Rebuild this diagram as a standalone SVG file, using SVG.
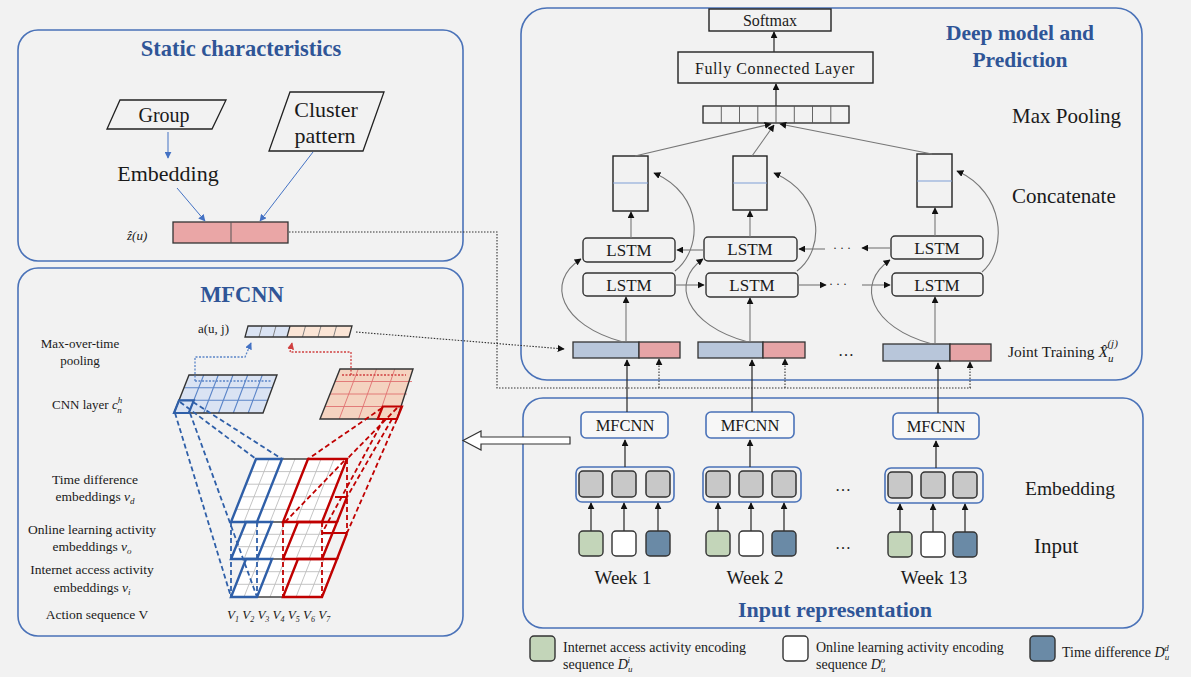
<svg xmlns="http://www.w3.org/2000/svg" width="1191" height="677" viewBox="0 0 1191 677">
<defs>
<style>
.panel{fill:#f2f2f2;stroke:#4a72b8;stroke-width:1.6}
.title{font-family:"Liberation Serif",serif;font-weight:bold;fill:#2f5597;text-anchor:middle}
.t{font-family:"Liberation Serif",serif;fill:#1a1a1a}
.c{text-anchor:middle}
.box{fill:#f2f2f2;stroke:#222;stroke-width:1.4}
.lstm{fill:#f2f2f2;stroke:#333;stroke-width:1.4}
.mf{fill:#f7f7f7;stroke:#4a72b8;stroke-width:1.6}
.emb{fill:none;stroke:#4a72b8;stroke-width:1.6}
.gsq{fill:#c8c8c8;stroke:#333;stroke-width:1.5}
.a{stroke:#333;stroke-width:1.3;fill:none}
.ag{stroke:#777;stroke-width:1.1;fill:none}
.dot{stroke:#333;stroke-width:1.1;fill:none;stroke-dasharray:1.5 1.5}
.ab{stroke:#4472c4;stroke-width:1;fill:none}
.grid{stroke:#bdbdbd;stroke-width:0.9;fill:none}
.bl{stroke:#2f5fa8;stroke-width:2.4;fill:none}
.rd{stroke:#c00000;stroke-width:2.4;fill:none}
.bld{stroke:#2f5fa8;stroke-width:1.8;fill:none;stroke-dasharray:5 3}
.rdd{stroke:#c00000;stroke-width:1.8;fill:none;stroke-dasharray:5 3}
.i{font-style:italic}
</style>
<marker id="ah" viewBox="0 0 10 10" refX="9" refY="5" markerWidth="7" markerHeight="7" markerUnits="userSpaceOnUse" orient="auto"><path d="M0,0 L10,5 L0,10 z" fill="#111"/></marker>
<marker id="ahb" viewBox="0 0 10 10" refX="9" refY="5" markerWidth="7" markerHeight="7" markerUnits="userSpaceOnUse" orient="auto"><path d="M0,0 L10,5 L0,10 z" fill="#4472c4"/></marker>
<marker id="ahr" viewBox="0 0 10 10" refX="9" refY="5" markerWidth="7" markerHeight="7" markerUnits="userSpaceOnUse" orient="auto"><path d="M0,0 L10,5 L0,10 z" fill="#d04040"/></marker>
</defs>
<rect x="0" y="0" width="1191" height="677" fill="#f2f2f2"/>

<!-- Static characteristics -->
<g id="static-panel">
<rect class="panel" x="18" y="30" width="445" height="231" rx="20"/>
<text class="title" x="241" y="56" font-size="22.5">Static characteristics</text>
</g>
<g id="group-node">
<polygon points="120,100 226,100 212,129 107,129" fill="#f2f2f2" stroke="#222" stroke-width="1.3"/>
<text class="t c" x="164" y="122" font-size="20">Group</text>
</g>
<g id="embedding-static">
<text class="t c" x="168" y="181" font-size="22">Embedding</text>
</g>
<g id="cluster-node">
<polygon points="290,92 384,92 363,151 269,151" fill="#f2f2f2" stroke="#222" stroke-width="1.3"/>
<text class="t c" x="326" y="117" font-size="22">Cluster</text>
<text class="t c" x="325" y="143" font-size="22">pattern</text>
</g>
<g id="zu-node">
<text class="t i" x="127" y="240" font-size="13">ẑ(u)</text>
<rect x="173" y="222" width="115" height="21" fill="#eaa6a6" stroke="#333" stroke-width="1.3"/>
<line x1="231" y1="222" x2="231" y2="243" stroke="#555" stroke-width="1"/>
</g>

<!-- MFCNN panel -->
<g id="mfcnn-panel">
<rect class="panel" x="18" y="268" width="445" height="368" rx="20"/>
<text class="title" x="242" y="302" font-size="22.5">MFCNN</text>
<text class="t" x="198" y="333" font-size="13">a(u, j)</text>
<text class="t c" x="80" y="348" font-size="13">Max-over-time</text>
<text class="t c" x="80" y="365" font-size="13">pooling</text>
<text class="t" x="52" y="409" font-size="13">CNN layer <tspan class="i">c</tspan><tspan class="i" font-size="9" dy="-6">h</tspan><tspan class="i" font-size="9" dx="-5" dy="10">n</tspan></text>
<text class="t c" x="95" y="484" font-size="13.5">Time difference</text>
<text class="t c" x="95" y="501" font-size="13.5">embeddings <tspan class="i">v</tspan><tspan class="i" font-size="9" dy="3">d</tspan></text>
<text class="t c" x="92" y="534" font-size="13.5">Online learning activity</text>
<text class="t c" x="92" y="551" font-size="13.5">embeddings <tspan class="i">v</tspan><tspan class="i" font-size="9" dy="3">o</tspan></text>
<text class="t c" x="92" y="574" font-size="13.5">Internet access activity</text>
<text class="t c" x="92" y="592" font-size="13.5">embeddings <tspan class="i">v</tspan><tspan class="i" font-size="9" dy="3">i</tspan></text>
<text class="t c" x="97" y="619" font-size="13.5">Action sequence V</text>
<text class="t i" x="227" y="619" font-size="13"><tspan>V</tspan><tspan font-size="8" dy="3">1</tspan><tspan dy="-3"> V</tspan><tspan font-size="8" dy="3">2</tspan><tspan dy="-3"> V</tspan><tspan font-size="8" dy="3">3</tspan><tspan dy="-3"> V</tspan><tspan font-size="8" dy="3">4</tspan><tspan dy="-3"> V</tspan><tspan font-size="8" dy="3">5</tspan><tspan dy="-3"> V</tspan><tspan font-size="8" dy="3">6</tspan><tspan dy="-3"> V</tspan><tspan font-size="8" dy="3">7</tspan></text>
</g>

<g id="pooling-bar">
<polygon points="248,326 290,326 287,337 245,337" fill="#dae3f3"/>
<polygon points="290,326 352,326 349,337 287,337" fill="#fbe5d6"/>
<path d="M262,326 L259,337 M276,326 L273,337 M305.5,326 L302.5,337 M321,326 L318,337 M336.5,326 L333.5,337" stroke="#777" stroke-width="0.9"/>
<line x1="290" y1="326" x2="287" y2="337" stroke="#333" stroke-width="1.2"/>
<polygon points="248,326 352,326 349,337 245,337" fill="none" stroke="#333" stroke-width="1.3"/>
</g>

<g id="cnn-blue">
<polygon points="189,375 277,375 263,413 174,413" fill="#dae3f3"/>
<path d="M188.8,413 L203.7,375 M203.7,413 L218.3,375 M218.5,413 L233,375 M233.3,413 L247.7,375 M248.2,413 L262.3,375 M179,400.3 L268,400.3 M184,387.7 L272.5,387.7" stroke="#5b85c8" stroke-width="1.1" fill="none"/>
<polygon points="189,375 277,375 263,413 174,413" fill="none" stroke="#333" stroke-width="1.4"/>
<polygon points="174,413 188.8,413 193.8,400.3 179,400.3" fill="none" stroke="#2f5fa8" stroke-width="2.2"/>
</g>
<g id="cnn-red">
<polygon points="340,369 413,369 397,419 320,419" fill="#f4d3c0"/>
<path d="M339.25,419 L358.25,369 M358.5,419 L376.5,369 M377.75,419 L394.75,369 M325,406.5 L402,406.5 M330,394 L407,394 M335,381.5 L412,381.5" stroke="#e07070" stroke-width="0.9" fill="none"/>
<polygon points="340,369 413,369 397,419 320,419" fill="none" stroke="#333" stroke-width="1.4"/>
<polygon points="377.75,419 397,419 402,406.5 382.75,406.5" fill="none" stroke="#c00000" stroke-width="2.2"/>
</g>

<g id="embedding-block">
<polygon points="231,522 322,522 347,459 256,459" fill="#fff"/>
<path class="grid" d="M244,522 L269,459 M257,522 L282,459 M270,522 L295,459 M283,522 L308,459 M296,522 L321,459 M309,522 L334,459 M236,509.4 L327,509.4 M241,496.8 L332,496.8 M246,484.2 L337,484.2 M251,471.6 L342,471.6"/>
<polygon points="231,559 322,559 337,522 246,522" fill="#fff"/>
<path class="grid" d="M244,559 L259,522 M257,559 L272,522 M270,559 L285,522 M283,559 L298,522 M296,559 L311,522 M309,559 L324,522 M236,546.7 L327,546.7 M241,534.3 L332,534.3"/>
<polygon points="231,597 322,597 337,559 246,559" fill="#fff"/>
<path class="grid" d="M244,597 L259,559 M257,597 L272,559 M270,597 L285,559 M283,597 L298,559 M296,597 L311,559 M309,597 L324,559 M236,584.3 L327,584.3 M241,571.7 L332,571.7"/>
<path d="M282,459 L308,459 M257,522 L283,522 M257,559 L283,559 M257,597 L283,597" stroke="#444" stroke-width="1.6"/>
<polygon class="bl" points="231,522 257,522 282,459 256,459"/>
<polygon class="bl" points="231,559 257,559 272,522 246,522"/>
<polygon class="bl" points="231,597 257,597 272,559 246,559"/>
<polygon class="rd" points="283,522 322,522 347,459 308,459"/>
<polygon class="rd" points="283,559 322,559 337,522 298,522"/>
<polygon class="rd" points="283,597 322,597 337,559 298,559"/>
<path class="rd" d="M337,522 L347,497 M347,533 L337,559" stroke-width="2"/>
<path d="M335,497 L347,497 M322,533 L347,533" stroke="#c00000" stroke-width="2"/>
<path class="bld" d="M231,522 L231,597 M257,522 L257,597"/>
<path class="rdd" d="M283,522 L283,597 M322,522 L322,597 M347,459 L347,533 M285,522 L345,460"/>
</g>

<!-- Deep model panel -->
<g id="deep-panel">
<rect class="panel" x="521" y="8" width="621" height="372" rx="26"/>
<text class="title" x="1020" y="40" font-size="21.5">Deep model and</text>
<text class="title" x="1020" y="67" font-size="21.5">Prediction</text>
<text class="t" x="1012" y="123" font-size="21">Max Pooling</text>
<text class="t" x="1012" y="203" font-size="21">Concatenate</text>
<text class="t" x="1008" y="357" font-size="15.5">Joint Training <tspan class="i">X̂</tspan><tspan class="i" font-size="11" dy="5">u</tspan><tspan class="i" font-size="11" dx="-6" dy="-15">(j)</tspan></text>
</g>
<g id="softmax"><rect class="box" x="709" y="9" width="122" height="22"/><text class="t c" x="770" y="26" font-size="16">Softmax</text></g>
<g id="fc"><rect class="box" x="678" y="52" width="195" height="31"/><text class="t c" x="775" y="74" font-size="16" letter-spacing="0.6">Fully Connected Layer</text></g>
<g id="maxpool">
<rect x="703" y="106" width="146" height="17" fill="#f2f2f2" stroke="#222" stroke-width="1.3"/>
<path d="M721.3,106 V123 M739.5,106 V123 M757.8,106 V123 M776,106 V123 M794.3,106 V123 M812.5,106 V123 M830.8,106 V123" stroke="#555" stroke-width="0.9"/>
</g>
<g id="concat1"><rect class="box" x="613" y="156" width="35" height="55"/><line x1="613" y1="183" x2="648" y2="183" stroke="#7f9fd6" stroke-width="1"/></g>
<g id="concat2"><rect class="box" x="733" y="156" width="34" height="54"/><line x1="733" y1="183" x2="767" y2="183" stroke="#7f9fd6" stroke-width="1"/></g>
<g id="concat3"><rect class="box" x="917" y="154" width="35" height="53"/><line x1="917" y1="181" x2="952" y2="181" stroke="#7f9fd6" stroke-width="1"/></g>
<g id="lstm-t1"><rect class="lstm" x="583" y="238" width="92" height="24" rx="4"/><text class="t c" x="629" y="256" font-size="17">LSTM</text></g>
<g id="lstm-t2"><rect class="lstm" x="704" y="237" width="93" height="24" rx="4"/><text class="t c" x="750" y="255" font-size="17">LSTM</text></g>
<g id="lstm-t3"><rect class="lstm" x="891" y="236" width="92" height="23" rx="4"/><text class="t c" x="937" y="254" font-size="17">LSTM</text></g>
<g id="lstm-b1"><rect class="lstm" x="583" y="273" width="92" height="23" rx="4"/><text class="t c" x="629" y="291" font-size="17">LSTM</text></g>
<g id="lstm-b2"><rect class="lstm" x="706" y="273" width="92" height="24" rx="4"/><text class="t c" x="752" y="291" font-size="17">LSTM</text></g>
<g id="lstm-b3"><rect class="lstm" x="892" y="273" width="91" height="23" rx="4"/><text class="t c" x="937" y="291" font-size="17">LSTM</text></g>
<g id="joint1"><rect x="573" y="342" width="66" height="16" fill="#b8c6da" stroke="#333" stroke-width="1.3"/><rect x="639" y="342" width="41" height="16" fill="#e6a4a6" stroke="#333" stroke-width="1.3"/></g>
<g id="joint2"><rect x="698" y="342" width="65" height="16" fill="#b8c6da" stroke="#333" stroke-width="1.3"/><rect x="763" y="342" width="42" height="16" fill="#e6a4a6" stroke="#333" stroke-width="1.3"/></g>
<g id="joint3"><rect x="883" y="344" width="67" height="17" fill="#b8c6da" stroke="#333" stroke-width="1.3"/><rect x="950" y="344" width="41" height="17" fill="#e6a4a6" stroke="#333" stroke-width="1.3"/></g>
<g id="deep-dots">
<text class="t" x="833" y="252" font-size="12" fill="#555">· · ·</text>
<text class="t" x="829" y="288" font-size="12" fill="#555">· · ·</text>
<text class="t c" x="846" y="356" font-size="16">…</text>
</g>

<!-- Input representation panel -->
<g id="input-panel">
<rect class="panel" x="523" y="398" width="620" height="230" rx="20"/>
<text class="title" x="835" y="617" font-size="22">Input representation</text>
<text class="t" x="1025" y="495" font-size="19.5">Embedding</text>
<text class="t" x="1034" y="553" font-size="21">Input</text>
<text class="t c" x="843" y="491" font-size="16">…</text>
<text class="t c" x="843" y="549" font-size="16">…</text>
</g>
<g id="week1">
<rect class="mf" x="581" y="412" width="87" height="26" rx="5"/><text class="t c" x="625" y="431" font-size="16.5">MFCNN</text>
<rect class="emb" x="576" y="467" width="98" height="35" rx="6"/>
<rect class="gsq" x="579" y="471" width="24" height="26" rx="4"/><rect class="gsq" x="612" y="471" width="24" height="26" rx="4"/><rect class="gsq" x="646" y="471" width="24" height="26" rx="4"/>
<rect x="579" y="531" width="24" height="25" rx="4" fill="#c3d5b9" stroke="#333" stroke-width="1.4"/><rect x="612" y="531" width="24" height="25" rx="4" fill="#fff" stroke="#333" stroke-width="1.4"/><rect x="646" y="531" width="24" height="25" rx="4" fill="#6a8aa6" stroke="#333" stroke-width="1.4"/>
<text class="t c" x="623" y="584" font-size="19">Week 1</text>
</g>
<g id="week2">
<rect class="mf" x="706" y="412" width="88" height="26" rx="5"/><text class="t c" x="750" y="431" font-size="16.5">MFCNN</text>
<rect class="emb" x="703" y="467" width="98" height="35" rx="6"/>
<rect class="gsq" x="706" y="471" width="24" height="26" rx="4"/><rect class="gsq" x="739" y="471" width="24" height="26" rx="4"/><rect class="gsq" x="772" y="471" width="24" height="26" rx="4"/>
<rect x="706" y="531" width="24" height="25" rx="4" fill="#c3d5b9" stroke="#333" stroke-width="1.4"/><rect x="739" y="531" width="24" height="25" rx="4" fill="#fff" stroke="#333" stroke-width="1.4"/><rect x="772" y="531" width="24" height="25" rx="4" fill="#6a8aa6" stroke="#333" stroke-width="1.4"/>
<text class="t c" x="755" y="584" font-size="19">Week 2</text>
</g>
<g id="week13">
<rect class="mf" x="893" y="413" width="86" height="26" rx="5"/><text class="t c" x="936" y="432" font-size="16.5">MFCNN</text>
<rect class="emb" x="885" y="468" width="98" height="35" rx="6"/>
<rect class="gsq" x="888" y="472" width="24" height="26" rx="4"/><rect class="gsq" x="921" y="472" width="24" height="26" rx="4"/><rect class="gsq" x="953" y="472" width="24" height="26" rx="4"/>
<rect x="888" y="532" width="24" height="25" rx="4" fill="#c3d5b9" stroke="#333" stroke-width="1.4"/><rect x="921" y="532" width="24" height="25" rx="4" fill="#fff" stroke="#333" stroke-width="1.4"/><rect x="953" y="532" width="24" height="25" rx="4" fill="#6a8aa6" stroke="#333" stroke-width="1.4"/>
<text class="t c" x="934" y="584" font-size="19">Week 13</text>
</g>

<!-- Legend -->
<g id="legend">
<rect x="530" y="636" width="25" height="25" rx="4" fill="#c3d5b9" stroke="#333" stroke-width="1.4"/>
<text class="t" x="563" y="652" font-size="14">Internet access activity encoding</text>
<text class="t" x="563" y="669" font-size="14">sequence <tspan class="i">D</tspan><tspan class="i" font-size="9" dy="3">u</tspan><tspan class="i" font-size="9" dx="-5" dy="-9">i</tspan></text>
<rect x="783" y="636" width="25" height="25" rx="4" fill="#fff" stroke="#333" stroke-width="1.4"/>
<text class="t" x="816" y="652" font-size="14">Online learning activity encoding</text>
<text class="t" x="816" y="669" font-size="14">sequence <tspan class="i">D</tspan><tspan class="i" font-size="9" dy="3">u</tspan><tspan class="i" font-size="9" dx="-5" dy="-9">o</tspan></text>
<rect x="1030" y="636" width="25" height="25" rx="4" fill="#6a8aa6" stroke="#333" stroke-width="1.4"/>
<text class="t" x="1062" y="657" font-size="14">Time difference <tspan class="i">D</tspan><tspan class="i" font-size="9" dy="3">u</tspan><tspan class="i" font-size="9" dx="-5" dy="-9">d</tspan></text>
</g>

<!-- Connectors -->
<g id="connectors">
<line class="ab" x1="168" y1="132" x2="168" y2="158" marker-end="url(#ahb)"/>
<line class="ab" x1="177" y1="188" x2="205" y2="221" marker-end="url(#ahb)"/>
<line class="ab" x1="313" y1="152" x2="260" y2="221" marker-end="url(#ahb)"/>
<path class="dot" d="M289,232 H497 V388 H971"/>
<line class="dot" x1="659" y1="388" x2="659" y2="359" marker-end="url(#ah)"/>
<line class="dot" x1="785" y1="388" x2="785" y2="359" marker-end="url(#ah)"/>
<line class="dot" x1="970" y1="388" x2="970" y2="362" marker-end="url(#ah)"/>
<line class="dot" x1="356" y1="332" x2="564" y2="349" marker-end="url(#ah)"/>
<path d="M195,381 H272 M195,381 V357 H245 L251,343" stroke="#5b85c8" stroke-width="1.3" fill="none" stroke-dasharray="2 1.5" marker-end="url(#ahb)"/>
<path d="M342,375 H406 M351,375 V352 H290 L292,343" stroke="#d04040" stroke-width="1.3" fill="none" stroke-dasharray="2 1.5" marker-end="url(#ahr)"/>
<path class="bld" d="M175,413 L231,597 M190,413 L257,597 M180,402 L256,459 M193,402 L282,459"/>
<path class="rdd" d="M382,408 L308,459 M397,408 L347,459 M392,419 L347,497 M397,419 L347,533 M384,419 L322,533"/>
<polygon points="570,437 481,437 481,431 463,440.5 481,450 481,444 570,444" fill="#fff" stroke="#333" stroke-width="1.2"/>
<line class="a" x1="774" y1="52" x2="774" y2="32" marker-end="url(#ah)"/>
<line class="a" x1="776" y1="106" x2="776" y2="84" marker-end="url(#ah)"/>
<line class="ag" x1="635" y1="156" x2="771" y2="124" marker-end="url(#ah)"/>
<line class="ag" x1="752" y1="156" x2="774" y2="125" marker-end="url(#ah)"/>
<line class="ag" x1="932" y1="154" x2="780" y2="124" marker-end="url(#ah)"/>
<line class="ag" x1="631" y1="238" x2="631" y2="212" marker-end="url(#ah)"/>
<line class="ag" x1="750" y1="237" x2="750" y2="211" marker-end="url(#ah)"/>
<line class="ag" x1="935" y1="236" x2="935" y2="208" marker-end="url(#ah)"/>
<line class="ag" x1="626" y1="342" x2="626" y2="297" marker-end="url(#ah)"/>
<line class="ag" x1="750" y1="342" x2="750" y2="298" marker-end="url(#ah)"/>
<line class="ag" x1="935" y1="344" x2="935" y2="297" marker-end="url(#ah)"/>
<path class="ag" d="M623,342 C560,325 545,282 581,259" marker-end="url(#ah)"/>
<path class="ag" d="M748,342 C685,325 670,282 703,259" marker-end="url(#ah)"/>
<path class="ag" d="M932,344 C870,327 855,284 890,260" marker-end="url(#ah)"/>
<path class="ag" d="M675,271 C702,250 705,195 654,173" marker-end="url(#ah)"/>
<path class="ag" d="M797,271 C825,250 825,195 774,173" marker-end="url(#ah)"/>
<path class="ag" d="M982,272 C1008,250 1005,192 957,171" marker-end="url(#ah)"/>
<line class="ag" x1="704" y1="250" x2="677" y2="250" marker-end="url(#ah)"/>
<line class="ag" x1="825" y1="249" x2="799" y2="249" marker-end="url(#ah)"/>
<line class="ag" x1="891" y1="248" x2="862" y2="248" marker-end="url(#ah)"/>
<line class="ag" x1="675" y1="285" x2="704" y2="285" marker-end="url(#ah)"/>
<line class="ag" x1="798" y1="285" x2="826" y2="285" marker-end="url(#ah)"/>
<line class="ag" x1="862" y1="285" x2="890" y2="285" marker-end="url(#ah)"/>
<line class="a" x1="627" y1="412" x2="627" y2="360" marker-end="url(#ah)"/>
<line class="a" x1="752" y1="412" x2="752" y2="360" marker-end="url(#ah)"/>
<line class="a" x1="938" y1="413" x2="938" y2="363" marker-end="url(#ah)"/>
<line class="a" x1="625" y1="467" x2="625" y2="440" marker-end="url(#ah)"/>
<line class="a" x1="750" y1="467" x2="750" y2="440" marker-end="url(#ah)"/>
<line class="a" x1="936" y1="468" x2="936" y2="441" marker-end="url(#ah)"/>
<line class="a" x1="591" y1="531" x2="591" y2="503" marker-end="url(#ah)"/>
<line class="a" x1="624" y1="531" x2="624" y2="503" marker-end="url(#ah)"/>
<line class="a" x1="658" y1="531" x2="658" y2="503" marker-end="url(#ah)"/>
<line class="a" x1="718" y1="531" x2="718" y2="503" marker-end="url(#ah)"/>
<line class="a" x1="751" y1="531" x2="751" y2="503" marker-end="url(#ah)"/>
<line class="a" x1="784" y1="531" x2="784" y2="503" marker-end="url(#ah)"/>
<line class="a" x1="900" y1="532" x2="900" y2="504" marker-end="url(#ah)"/>
<line class="a" x1="933" y1="532" x2="933" y2="504" marker-end="url(#ah)"/>
<line class="a" x1="965" y1="532" x2="965" y2="504" marker-end="url(#ah)"/>
</g>
</svg>
